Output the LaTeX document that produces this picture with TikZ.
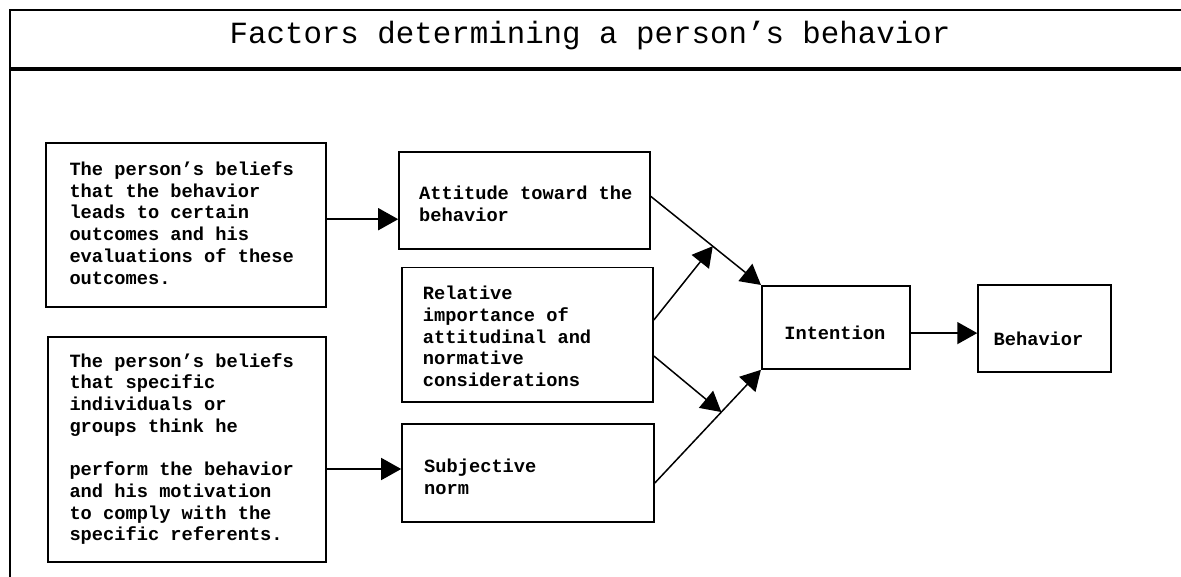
\documentclass[tikz,border=0pt]{standalone}
\usepackage{fontspec}
\newfontfamily\cour{Liberation Mono}
\usetikzlibrary{arrows.meta,calc}
\begin{document}
\begin{tikzpicture}[x=1pt,y=-1pt,
  frameline/.style={line width=1.8pt},
  thickline/.style={line width=3.6pt},
  box/.style={draw,line width=1.6pt,inner sep=0pt},
  lbl/.style={inner sep=0pt,align=left,font=\cour\bfseries\fontsize{18.7}{21.7}\selectfont},
  ttl/.style={inner sep=0pt,font=\cour\fontsize{30.8}{34}\selectfont},
  conn/.style={line width=1.5pt,-{Triangle[length=20pt,width=22pt]}}]
\useasboundingbox (0,0) rectangle (1181,577);
% frame
\coordinate (fTL) at (10,10);
\coordinate (fTR) at (1181,10);
\coordinate (fBL) at (10,577);
\coordinate (hL) at (10,69);
\coordinate (hR) at (1181,69);
\draw[frameline] (fBL) -- (fTL) -- (fTR);
\draw[thickline] (hL) -- (hR);
\node[ttl,anchor=base] (title) at (590,44) {Factors determining a person’s behavior};
% boxes
\node[box,minimum width=280pt,minimum height=164.3pt] (a) at (186,224.9) {};
\node[box,minimum width=278.3pt,minimum height=225.3pt] (b) at (186.9,449.4) {};
\node[box,minimum width=251pt,minimum height=97.3pt] (att) at (524.5,200.4) {};
\node[box,minimum width=251.3pt,minimum height=134pt] (rel) at (527.4,334.7) {};
\node[box,minimum width=252pt,minimum height=98pt] (subj) at (528,473) {};
\node[box,minimum width=148.3pt,minimum height=83.3pt] (int) at (835.9,327.4) {};
\node[box,minimum width=132.7pt,minimum height=86.7pt] (beh) at (1044.4,328.4) {};
% texts
\node[lbl,anchor=west] (ta) at (69.3,223) {The person’s beliefs\\that the behavior\\leads to certain\\outcomes and his\\evaluations of these\\outcomes.};
\node[lbl,anchor=west] (tb) at (69.3,449) {The person’s beliefs\\that specific\\individuals or\\groups think he\\[21.7pt]perform the behavior\\and his motivation\\to comply with the\\specific referents.};
\node[lbl,anchor=west] (tatt) at (419,204) {Attitude toward the\\behavior};
\node[lbl,anchor=west] (trel) at (422.7,336.5) {Relative\\importance of\\attitudinal and\\normative\\considerations};
\node[lbl,anchor=west] (tsubj) at (424,476.5) {Subjective\\norm};
\node[lbl] (tint) at (834.8,333) {Intention};
\node[lbl] (tbeh) at (1038.5,339) {Behavior};
% connector coordinates
\coordinate (aout) at ($(a.east)+(0,-5.7)$);
\coordinate (bout) at ($(b.east)+(0,19.6)$);
\coordinate (intout) at ($(int.east)+(0,5.7)$);
\coordinate (attout) at ($(att.east)+(0,-4)$);
\coordinate (subjout) at ($(subj.east)+(0,10)$);
\coordinate (relup) at ($(rel.east)+(0,-14.7)$);
\coordinate (reldn) at ($(rel.east)+(0,21.3)$);
\coordinate (m1) at ($(attout)!0.5625!(int.north west)$);
\coordinate (m2) at ($(subjout)!0.627!(int.south west)$);
% connectors
\draw[conn] (aout) -- (aout -| att.west);
\draw[conn] (bout) -- (bout -| subj.west);
\draw[conn] (intout) -- (intout -| beh.west);
\draw[conn] (attout) -- (int.north west);
\draw[conn] (subjout) -- (int.south west);
\draw[conn] (relup) -- (m1);
\draw[conn] (reldn) -- (m2);
\end{tikzpicture}
\end{document}
